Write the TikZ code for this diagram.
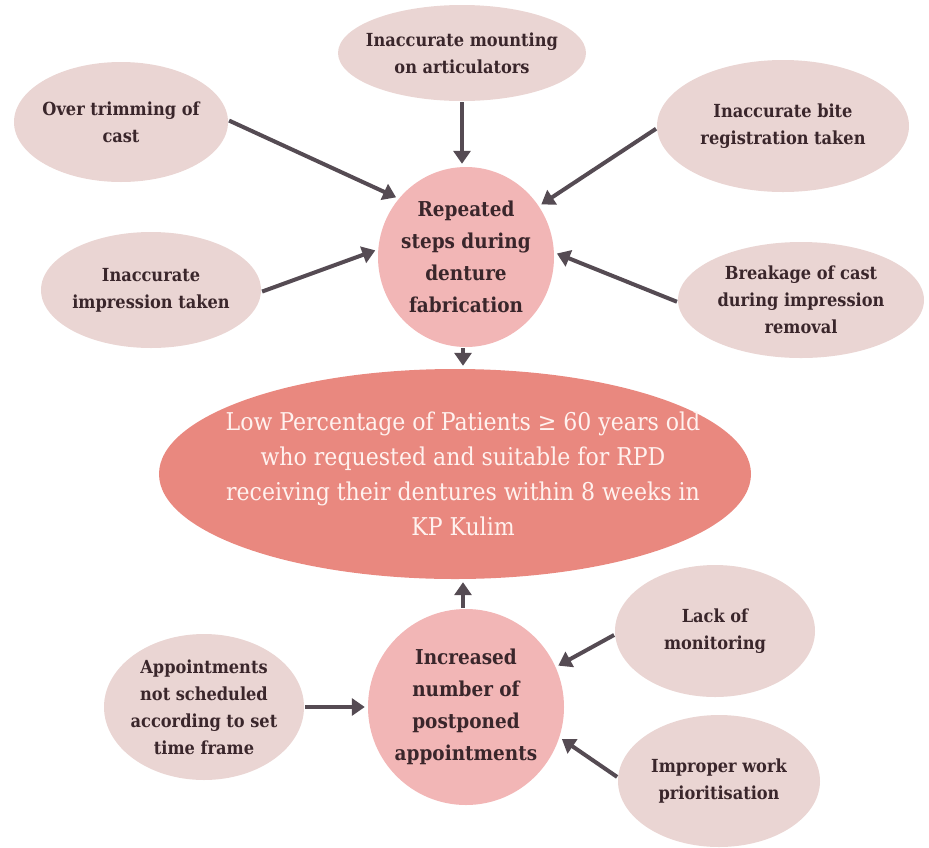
\documentclass[tikz,border=0pt]{standalone}
\usepackage{fontspec}
\setmainfont{DejaVu Serif Condensed}
\usetikzlibrary{shapes.geometric,arrows.meta}
\definecolor{causefill}{HTML}{EAD5D3}
\definecolor{midfill}{HTML}{F2B6B6}
\definecolor{mainfill}{HTML}{E9887F}
\definecolor{arrowcol}{HTML}{554B53}
\definecolor{txtcol}{HTML}{3A262B}
\definecolor{maintxt}{HTML}{FFF2EF}
\tikzset{
  causebox/.style={ellipse, fill=causefill, inner sep=0pt},
  midbox/.style={ellipse, fill=midfill, inner sep=0pt},
  mainbox/.style={ellipse, fill=mainfill, inner sep=0pt},
  causetext/.style={inner sep=0pt, text=txtcol, align=center,
     font=\bfseries\fontsize{18}{27}\selectfont},
  midtext/.style={inner sep=0pt, text=txtcol, align=center,
     font=\bfseries\fontsize{20.5}{32}\selectfont},
  maintext/.style={inner sep=0pt, text=maintxt, align=center,
     font=\fontsize{24.5}{35}\selectfont},
  arr/.style={draw=arrowcol, line width=4pt, -{Triangle[width=17pt,length=13pt]}, shorten <=1pt, shorten >=3pt}
}
\begin{document}
\begin{tikzpicture}[x=1pt,y=-1pt]
\useasboundingbox (0,0) rectangle (929,847);
% cause ellipses (top)
\node[causebox, minimum width=214pt, minimum height=120pt] (over) at (121,122) {};
\node[causetext] (overT) at (over) {Over trimming of\\cast};
\node[causebox, minimum width=248pt, minimum height=96pt] (mount) at (462,53) {};
\node[causetext] (mountT) at (mount) {Inaccurate mounting\\on articulators};
\node[causebox, minimum width=252pt, minimum height=132pt] (bite) at (783,126) {};
\node[causetext] (biteT) at (bite) {Inaccurate bite\\registration taken};
\node[causebox, minimum width=220pt, minimum height=116pt] (impr) at (151,290) {};
\node[causetext] (imprT) at (impr) {Inaccurate\\impression taken};
\node[causebox, minimum width=246pt, minimum height=116pt] (break) at (801,300) {};
\node[causetext] (breakT) at (break) {Breakage of cast\\during impression\\removal};
% middle circles
\node[midbox, minimum width=176pt, minimum height=180pt] (rep) at (466,257) {};
\node[midtext] (repT) at (rep) {Repeated\\steps during\\denture\\fabrication};
\node[midbox, minimum width=196pt, minimum height=196pt] (inc) at (466,707) {};
\node[midtext] (incT) at (inc) {Increased\\number of\\postponed\\appointments};
% main ellipse
\node[mainbox, minimum width=592pt, minimum height=210pt] (main) at (455,474) {};
\node[maintext] (mainT) at ([xshift=8pt]main.center) {Low Percentage of Patients ≥ 60 years old\\who requested and suitable for RPD\\receiving their dentures within 8 weeks in\\KP Kulim};
% bottom causes
\node[causebox, minimum width=200pt, minimum height=146pt] (appt) at (204,707) {};
\node[causetext] (apptT) at (appt) {Appointments\\not scheduled\\according to set\\time frame};
\node[causebox, minimum width=200pt, minimum height=132pt] (lack) at (715,631) {};
\node[causetext] (lackT) at (lack) {Lack of\\monitoring};
\node[causebox, minimum width=202pt, minimum height=132pt] (improper) at (719,781) {};
\node[causetext] (improperT) at (improper) {Improper work\\prioritisation};
% arrows
\draw[arr] (mount.south) -- (mount.south |- rep.north);
\draw[arr] (over.1) -- (rep.139);
\draw[arr] (bite.181) -- (rep.35);
\draw[arr] (impr.-1) -- (rep.175);
\draw[arr] (break.181) -- (rep.3);
\draw[arr] ([xshift=-3pt]rep.south) -- ([xshift=-3pt]rep.south |- main.north);
\draw[arr] ([xshift=-3pt]inc.north) -- ([xshift=-3pt]inc.north |- main.south);
\draw[arr] (appt.east) -- (inc.west);
\draw[arr] (lack.182) -- (inc.24);
\draw[arr] (improper.178) -- (inc.-18);
\end{tikzpicture}
\end{document}
